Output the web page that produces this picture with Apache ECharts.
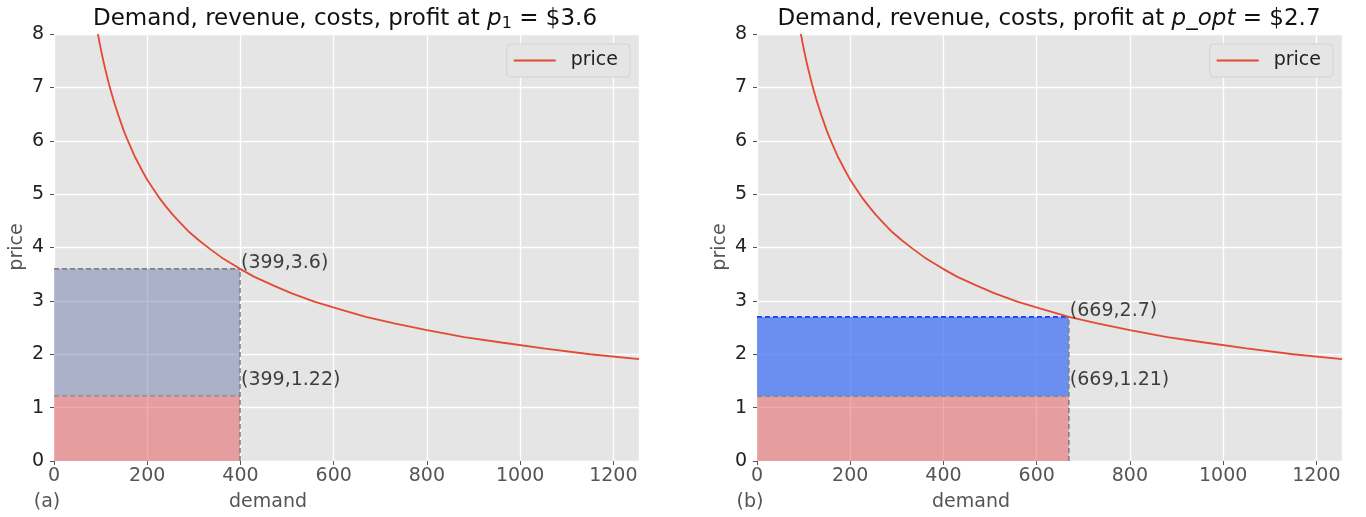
<!DOCTYPE html>
<html>
<head>
<meta charset="utf-8">
<script src="https://cdn.jsdelivr.net/npm/echarts@6/dist/echarts.min.js"></script>
<style>
html,body{margin:0;padding:0;background:#fff;}
#c{width:1366px;height:517px;}
</style>
</head>
<body>
<div id="c"></div>
<script>
// demand curve (demand, price)
const demand = [94, 96, 98, 100, 103, 106, 110, 114, 118, 122, 127, 132, 138, 144, 150, 157, 165, 173, 182, 191, 200, 212, 225, 240, 255, 270, 290, 310, 335, 360, 399, 430, 470, 510, 560, 610, 669, 730, 800, 880, 960, 1050, 1150, 1255];
const price  = [8.00, 7.92, 7.82, 7.74, 7.61, 7.49, 7.34, 7.20, 7.06, 6.93, 6.78, 6.64, 6.48, 6.33, 6.18, 6.03, 5.87, 5.71, 5.56, 5.41, 5.27, 5.11, 4.94, 4.77, 4.61, 4.47, 4.29, 4.14, 3.97, 3.81, 3.60, 3.45, 3.29, 3.14, 2.98, 2.85, 2.70, 2.58, 2.45, 2.32, 2.22, 2.11, 2.00, 1.91];
// panel values
const panelNames = ['(a)', '(b)'];
const panelPrice = [3.6, 2.7];
const panelQty   = [399, 669];
const panelCost  = [1.22, 1.21];
const xTicks = [0, 200, 400, 600, 800, 1000, 1200];
const yTicks = [0, 1, 2, 3, 4, 5, 6, 7, 8];

const FONT = 'DejaVu Sans';
const curve = demand.map((d, i) => [d, price[i]]);

const grids = [
  {left: 54, right: 727, top: 34, bottom: 56},
  {left: 757, right: 24, top: 34, bottom: 56}
];
const revColors = ['rgba(111,125,171,0.5)', 'rgba(66,112,244,0.75)'];
const topLineColors = ['#808080', '#1440f5'];
const redFill = 'rgba(231,85,89,0.5)';

const xAxes = [], yAxes = [], series = [], legends = [];
for (let k = 0; k < 2; k++) {
  xAxes.push({
    type: 'value', gridIndex: k, min: xTicks[0], max: 1255, interval: 200,
    axisLine: {show: false},
    axisTick: {show: true, length: 4, lineStyle: {color: '#555'}},
    axisLabel: {color: '#555', fontSize: 19, fontFamily: FONT, margin: 6, showMaxLabel: false,
      formatter: (v) => String(v)},
    splitLine: {show: true, lineStyle: {color: '#fff', width: 1.3}}
  });
  yAxes.push({
    type: 'value', gridIndex: k, min: yTicks[0], max: yTicks[yTicks.length - 1], interval: 1,
    axisLine: {show: false},
    axisTick: {show: true, length: 4, lineStyle: {color: '#555'}},
    axisLabel: {color: '#222', fontSize: 19, fontFamily: FONT, margin: 10},
    splitLine: {show: true, lineStyle: {color: '#fff', width: 1.3}}
  });
  const q = panelQty[k], p = panelPrice[k], c = panelCost[k];
  // revenue-minus-cost rectangle
  series.push({
    type: 'line', xAxisIndex: k, yAxisIndex: k, symbol: 'none', silent: true,
    data: [[0, p], [q, p]],
    lineStyle: {color: topLineColors[k], width: 1.7, type: [5, 3]},
    areaStyle: {color: revColors[k], origin: c, opacity: 1},
    z: 2
  });
  // cost rectangle
  series.push({
    type: 'line', xAxisIndex: k, yAxisIndex: k, symbol: 'none', silent: true,
    data: [[0, c], [q, c]],
    lineStyle: {color: '#888', width: 1.2, type: [5, 3]},
    areaStyle: {color: redFill, origin: 0, opacity: 1},
    z: 2
  });
  // vertical dashed line
  series.push({
    type: 'line', xAxisIndex: k, yAxisIndex: k, symbol: 'none', silent: true,
    data: [[q, 0], [q, p]],
    lineStyle: {color: '#808080', width: 1.6, type: [5, 3]},
    z: 3
  });
  // price curve
  series.push({
    name: 'price', type: 'line', xAxisIndex: k, yAxisIndex: k,
    symbol: 'none', smooth: false,
    data: curve, clip: true,
    lineStyle: {color: '#E24A33', width: 1.8},
    itemStyle: {color: '#E24A33'},
    z: 4
  });
  // annotations
  series.push({
    type: 'scatter', xAxisIndex: k, yAxisIndex: k, symbolSize: 0, silent: true,
    data: [
      {value: [q, p], label: {offset: [0, -6]}},
      {value: [q, c], label: {offset: [0, -16]}}
    ],
    label: {
      show: true, position: 'right', distance: 1,
      formatter: (o) => '(' + o.value[0] + ',' + o.value[1] + ')',
      color: '#111', fontSize: 19, fontFamily: FONT
    },
    z: 5
  });
  legends.push({
    data: ['price'],
    right: k === 0 ? 736 : 33, top: 44,
    orient: 'vertical',
    icon: 'rect', itemWidth: 42, itemHeight: 2, itemGap: 0,
    padding: [7, 12, 7, 7],
    backgroundColor: '#E5E5E5', borderColor: '#D2D2D2', borderWidth: 1, borderRadius: 4,
    textStyle: {fontSize: 19, color: '#222', fontFamily: FONT, padding: [0, 0, 0, 10]},
    selectedMode: false
  });
}

const titleRich = {
  i: {fontStyle: 'italic', fontSize: 23, fontFamily: FONT, fill: '#111', color: '#111'},
  s: {fontSize: 16, fontFamily: FONT, fill: '#111', color: '#111', padding: [10, 0, 0, 0]},
  n: {fontSize: 23, fontFamily: FONT, fill: '#111', color: '#111'}
};
function txt(x, y, text, size, color, extra) {
  return Object.assign({
    type: 'text', x: x, y: y,
    style: {text: text, fontSize: size, fontFamily: FONT, fill: color,
      align: 'center', verticalAlign: 'middle', textAlign: 'center', textVerticalAlign: 'middle'}
  }, extra || {});
}
const graphics = [
  {type: 'text', x: 345, y: 19, style: {text: '{n|Demand, revenue, costs, profit at }{i|p}{s|1}{n| = $3.6}', rich: titleRich, align: 'center', verticalAlign: 'middle', textAlign: 'center', textVerticalAlign: 'middle'}},
  {type: 'text', x: 1049, y: 19, style: {text: '{n|Demand, revenue, costs, profit at }{i|p_opt}{n| = $2.7}', rich: titleRich, align: 'center', verticalAlign: 'middle', textAlign: 'center', textVerticalAlign: 'middle'}},
  txt(17, 247, 'price', 19, '#555', {rotation: Math.PI / 2}),
  txt(720, 247, 'price', 19, '#555', {rotation: Math.PI / 2}),
  txt(268, 502, 'demand', 19, '#555'),
  txt(971, 502, 'demand', 19, '#555'),
  txt(47, 502, panelNames[0], 19, '#555'),
  txt(750, 502, panelNames[1], 19, '#555')
];

const chart = echarts.init(document.getElementById('c'), null, {renderer: 'canvas'});
chart.setOption({
  animation: false,
  backgroundColor: '#fff',
  grid: grids.map(g => Object.assign({show: true, backgroundColor: '#E5E5E5', borderWidth: 0}, g)),
  xAxis: xAxes,
  yAxis: yAxes,
  legend: legends,
  series: series,
  graphic: graphics
});
</script>
</body>
</html>
